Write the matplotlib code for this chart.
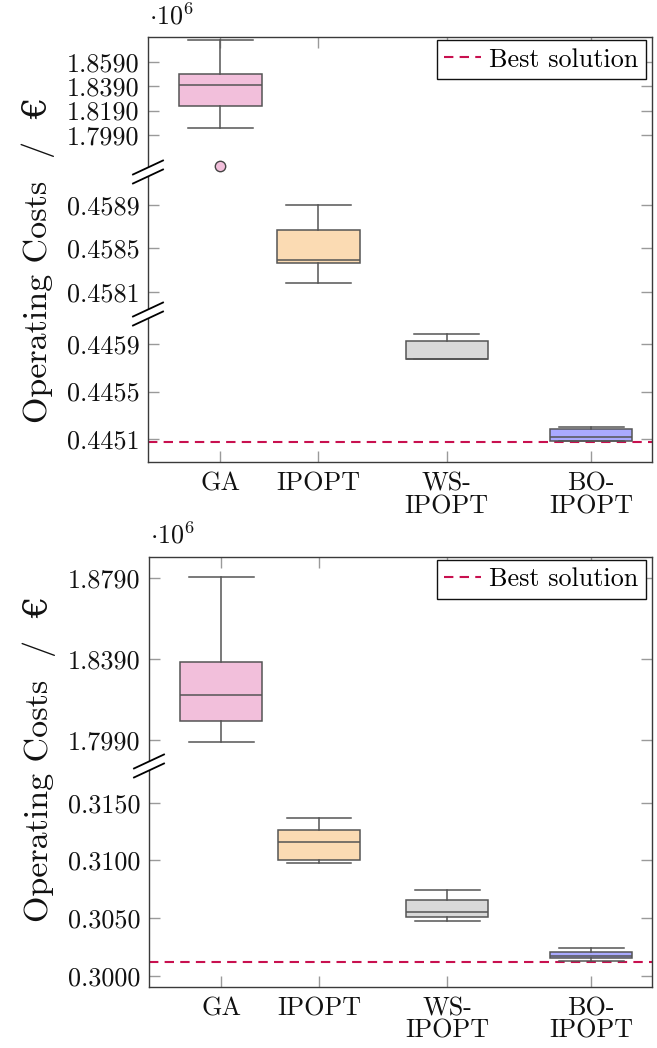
import numpy as np
import matplotlib
matplotlib.use("Agg")
import matplotlib.pyplot as plt
from matplotlib.lines import Line2D
from matplotlib.patches import Polygon

plt.rcParams['font.family'] = ['cmr10', 'DejaVu Serif']
plt.rcParams['mathtext.fontset'] = 'cm'
plt.rcParams['axes.unicode_minus'] = False
plt.rcParams['axes.formatter.use_mathtext'] = True

# ---------------- data (values in 10^6 EUR) ----------------
methods = ["GA", "IPOPT", "WS-\nIPOPT", "BO-\nIPOPT"]
colors = ["#f2bfdb", "#fbdbb3", "#d9d9d9", "#aaaaff"]

# top panel
top_whislo = [1.8048, 0.45818, 0.44577, 0.44509]
top_q1     = [1.8229, 0.45837, 0.44577, 0.44509]
top_med    = [1.8404, 0.45839, 0.44577, 0.44512]
top_q3     = [1.8490, 0.45867, 0.44592, 0.44519]
top_whishi = [1.8770, 0.45890, 0.44598, 0.44520]
top_fliers = [[1.7737], [], [], []]
top_best = 0.44508
top_ticks = [1.859, 1.839, 1.819, 1.799, 0.4589, 0.4585, 0.4581, 0.4459, 0.4455, 0.4451]

# bottom panel
bot_whislo = [1.7979, 0.30977, 0.30471, 0.30127]
bot_q1     = [1.8084, 0.31000, 0.30505, 0.30151]
bot_med    = [1.8211, 0.31159, 0.30549, 0.30175]
bot_q3     = [1.8375, 0.31263, 0.30653, 0.30205]
bot_whishi = [1.8795, 0.31370, 0.30746, 0.30243]
bot_fliers = [[], [], [], []]
bot_best = 0.30121
bot_ticks = [1.879, 1.839, 1.799, 0.315, 0.310, 0.305, 0.300]

# ---------------- layout ----------------
W, H = 657, 1048
fig = plt.figure(figsize=(W / 100, H / 100), dpi=100)

positions = [1.0, 1.678, 2.566, 3.564]
XLIM = (0.5, 3.985)
EPS = 1e-6

# broken-axis anchors: (data value, axes fraction)
top_anchor_d = [0.44491, 0.44615, 0.45790, 0.45920, 1.7685, 1.8796]
top_anchor_f = [0.0, 0.3482, 0.3482 + EPS, 0.6824, 0.6824 + EPS, 1.0]
bot_anchor_d = [0.29905, 0.31818, 1.7862, 1.8894]
bot_anchor_f = [0.0, 0.5133, 0.5133 + EPS, 1.0]

SPINE = "#3a3a3a"
TICKC = "#9a9a9a"
EDGE = "#555555"
BEST = "#c8104f"
FS = 18.8


def make_scale(d, f):
    d = np.asarray(d, float)
    f = np.asarray(f, float)

    def fwd(y):
        return np.interp(y, d, f)

    def inv(u):
        return np.interp(u, f, d)
    return fwd, inv


def draw_panel(rect, whislo, q1, med, q3, whishi, fliers, best, ticks,
               anchor_d, anchor_f, breaks_f, ylabel_y):
    ax = fig.add_axes(rect)
    fwd, inv = make_scale(anchor_d, anchor_f)
    ax.set_yscale('function', functions=(fwd, inv))
    ax.set_ylim(anchor_d[0], anchor_d[-1])
    ax.set_xlim(*XLIM)

    stats = []
    for i in range(len(methods)):
        stats.append(dict(whislo=whislo[i], q1=q1[i], med=med[i], q3=q3[i],
                          whishi=whishi[i], fliers=fliers[i], label=methods[i]))
    bp = ax.bxp(stats, positions=positions, widths=0.57, capwidths=0.45,
                patch_artist=True, showfliers=True,
                boxprops=dict(edgecolor=EDGE, linewidth=1.1),
                medianprops=dict(color=EDGE, linewidth=1.1),
                whiskerprops=dict(color=EDGE, linewidth=1.1),
                capprops=dict(color=EDGE, linewidth=1.1),
                flierprops=dict(marker='o', markersize=7.5,
                                markerfacecolor=colors[0],
                                markeredgecolor="#444444",
                                markeredgewidth=1.0))
    for patch, c in zip(bp['boxes'], colors):
        patch.set_facecolor(c)

    ax.axhline(best, color=BEST, linestyle=(0, (4.5, 3.0)), linewidth=1.5,
               label="Best solution", zorder=1)

    ax.set_yticks(ticks)
    ax.set_yticklabels([f"{t:.4f}" for t in ticks])
    ax.yaxis.set_minor_locator(matplotlib.ticker.NullLocator())
    ax.set_xticks(positions)
    ax.set_xticklabels(methods, linespacing=0.95)

    ax.tick_params(axis='both', which='major', direction='in', length=8,
                   width=1.0, color=TICKC, labelsize=FS, top=True, right=True,
                   labelcolor="#111111")
    ax.tick_params(axis='x', pad=7)
    ax.tick_params(axis='y', pad=6)
    for s in ax.spines.values():
        s.set_color(SPINE)
        s.set_linewidth(1.0)

    leg = ax.legend(loc='upper right', bbox_to_anchor=(0.988, 0.993),
                    borderaxespad=0.0, fontsize=FS, frameon=True,
                    fancybox=False, framealpha=1.0, edgecolor="#111111",
                    handlelength=1.4, handletextpad=0.3, borderpad=0.3)
    leg.get_frame().set_linewidth(1.0)

    t = ax.text(0.002, 1.018, r"$\cdot 10^{6}$", transform=ax.transAxes,
                ha='left', va='bottom', fontsize=FS, color="#111111")

    ax.set_ylabel("Operating Costs  /  €", fontsize=24.5, color="#111111")
    ax.yaxis.set_label_coords(-0.185, ylabel_y)

    # axis-break marks on the left spine
    px_w = rect[2] * W
    px_h = rect[3] * H
    dx = 15.0 / px_w
    dy = 7.0 / px_h
    gap = 4.5 / px_h
    for bf in breaks_f:
        poly = Polygon([(-dx, bf - dy - gap), (dx, bf + dy - gap),
                        (dx, bf + dy + gap), (-dx, bf - dy + gap)],
                       closed=True, transform=ax.transAxes, facecolor='white',
                       edgecolor='none', clip_on=False, zorder=5)
        ax.add_patch(poly)
        for off in (-gap, gap):
            ax.add_line(Line2D([-dx, dx], [bf - dy + off, bf + dy + off],
                               transform=ax.transAxes, color='black',
                               linewidth=1.3, clip_on=False, zorder=6))
    return ax


top_rect = [148 / W, (H - 462) / H, 504 / W, 425 / H]
bot_rect = [149 / W, (H - 986.7) / H, 503 / W, 430 / H]

draw_panel(top_rect, top_whislo, top_q1, top_med, top_q3, top_whishi,
           top_fliers, top_best, top_ticks, top_anchor_d, top_anchor_f,
           [0.3482, 0.6824], 0.475)
draw_panel(bot_rect, bot_whislo, bot_q1, bot_med, bot_q3, bot_whishi,
           bot_fliers, bot_best, bot_ticks, bot_anchor_d, bot_anchor_f,
           [0.5133], 0.53)

fig.savefig("out.png", dpi=100)
